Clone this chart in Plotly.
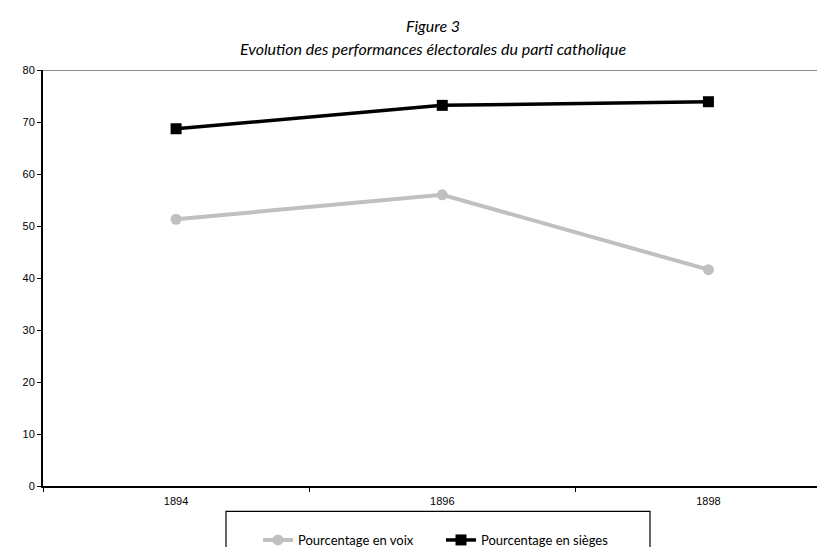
import plotly.graph_objects as go

years = ["1894", "1896", "1898"]
voix = [51.3, 56.0, 41.6]
sieges = [68.7, 73.2, 73.9]
y_ticks = [0, 10, 20, 30, 40, 50, 60, 70, 80]

W, H = 825, 547
L, R, T, B = 35, 0, 62, 60
pw = W - L - R
ph = H - T - B

def px_x(p):
    return (p - L) / pw

def px_y(p):
    return (H - B - p) / ph

fig = go.Figure()
fig.add_trace(go.Scatter(
    x=years, y=voix, name="Pourcentage en voix", mode="lines+markers",
    line=dict(color="#c0c0c0", width=4),
    marker=dict(symbol="circle", size=11, color="#c0c0c0"),
))
fig.add_trace(go.Scatter(
    x=years, y=sieges, name="Pourcentage en sièges", mode="lines+markers",
    line=dict(color="#000000", width=3.5),
    marker=dict(symbol="square", size=11, color="#000000"),
))

# top border line at 80
fig.add_shape(type="line", xref="paper", yref="y", x0=0, x1=1, y0=80, y1=80,
              line=dict(color="#8c8c8c", width=2), layer="below")
# legend box
fig.add_shape(type="rect", xref="paper", yref="paper",
              x0=px_x(218), x1=px_x(642), y0=px_y(513), y1=px_y(550),
              line=dict(color="#000000", width=1.2))

fig.add_annotation(text="<i>Figure 3</i>", xref="paper", yref="paper",
                   x=px_x(425), y=px_y(17), showarrow=False,
                   font=dict(family="Lato", size=16, color="#000"), yanchor="middle")
fig.add_annotation(text="<i>Evolution des performances électorales du parti catholique</i>",
                   xref="paper", yref="paper",
                   x=px_x(425), y=px_y(40), showarrow=False,
                   font=dict(family="Lato", size=16, color="#000"), yanchor="middle")

fig.update_layout(
    width=W, height=H,
    margin=dict(l=L, r=R, t=T, b=B, pad=0),
    paper_bgcolor="white", plot_bgcolor="white",
    showlegend=True,
    legend=dict(orientation="h", x=px_x(250), y=px_y(527), xanchor="left", yanchor="top",
                font=dict(family="Lato", size=13, color="#000"),
                bgcolor="rgba(0,0,0,0)", entrywidth=138, itemwidth=30, tracegroupgap=0),
    font=dict(family="Liberation Sans", size=11, color="#000"),
)
fig.update_xaxes(type="category", range=[-0.5, 2.468], showgrid=False, zeroline=False,
                 showline=True, linecolor="#000", linewidth=2,
                 ticks="outside", tickson="boundaries", ticklen=4, tickcolor="#000",
                 ticklabelstandoff=4,
                 tickfont=dict(family="Liberation Sans", size=11))
fig.update_yaxes(range=[0, 80], tickvals=y_ticks, showgrid=False, zeroline=False,
                 showline=True, linecolor="#000", linewidth=2,
                 ticks="outside", ticklen=4, tickcolor="#000",
                 tickfont=dict(family="Liberation Sans", size=11))

fig.write_html("out.html")
